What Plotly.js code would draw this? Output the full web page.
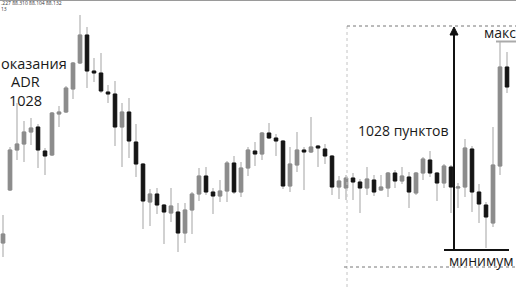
<!DOCTYPE html>
<html>
<head>
<meta charset="utf-8">
<script src="https://cdn.plot.ly/plotly-3.0.1.min.js"></script>
<style>
html,body{margin:0;padding:0;background:#fff;}
#chart{width:516px;height:290px;}
</style>
</head>
<body>
<div id="chart"></div>
<script>
// Candle index (bars)
const bars = Array.from({length: 73}, (_, i) => i);

const openP = [87.285,87.550,87.750,87.780,87.840,87.865,87.745,87.725,87.930,87.940,
88.055,88.185,88.325,88.145,88.135,88.040,88.030,87.865,87.940,87.790,
87.680,87.490,87.530,87.475,87.435,87.440,87.335,87.450,87.530,87.620,
87.540,87.520,87.545,87.685,87.540,87.660,87.745,87.730,87.835,87.810,
87.795,87.570,87.675,87.750,87.740,87.770,87.755,87.720,87.565,87.560,
87.610,87.590,87.560,87.600,87.550,87.560,87.635,87.595,87.615,87.535,
87.635,87.700,87.635,87.585,87.665,87.560,87.565,87.755,87.540,87.475,
87.385,87.670,88.165];

const highP = [87.425,87.765,87.985,87.895,87.910,87.880,87.760,87.940,87.970,88.070,
88.190,88.425,88.365,88.210,88.235,88.075,88.095,87.985,88.010,87.880,
87.685,87.555,87.560,87.480,87.560,87.485,87.485,87.540,87.660,87.665,
87.560,87.600,87.695,87.720,87.690,87.765,87.790,87.840,87.885,87.830,
87.800,87.765,87.840,87.765,87.915,87.775,87.780,87.725,87.620,87.625,
87.635,87.605,87.665,87.625,87.625,87.640,87.650,87.665,87.640,87.640,
87.715,87.745,87.640,87.680,87.675,87.585,87.805,87.770,87.580,87.490,
87.865,88.290,88.240];

const lowP = [87.215,87.545,87.700,87.690,87.775,87.660,87.625,87.720,87.865,87.935,
88.005,88.180,88.060,88.090,88.035,87.985,87.770,87.665,87.710,87.615,
87.355,87.370,87.430,87.280,87.390,87.240,87.285,87.330,87.495,87.525,
87.430,87.490,87.490,87.530,87.515,87.620,87.670,87.700,87.805,87.720,
87.555,87.540,87.640,87.550,87.735,87.665,87.680,87.525,87.505,87.500,
87.500,87.435,87.525,87.520,87.545,87.515,87.560,87.580,87.460,87.525,
87.600,87.615,87.495,87.560,87.435,87.460,87.515,87.440,87.385,87.260,
87.365,87.625,88.035];

const closeP = [87.330,87.750,87.780,87.840,87.860,87.750,87.720,87.935,87.940,88.060,
88.185,88.325,88.145,88.135,88.045,88.030,87.865,87.940,87.795,87.680,
87.495,87.530,87.475,87.440,87.470,87.335,87.450,87.530,87.620,87.540,
87.520,87.545,87.685,87.540,87.660,87.750,87.730,87.835,87.810,87.795,
87.570,87.680,87.750,87.740,87.765,87.760,87.720,87.565,87.595,87.610,
87.590,87.560,87.605,87.540,87.565,87.635,87.595,87.620,87.540,87.635,
87.705,87.635,87.585,87.670,87.565,87.565,87.760,87.540,87.480,87.415,
87.675,88.165,88.065];

const labelRange = "1028 пунктов";
const labelLeft = ["оказания", "ADR", "1028"];
const labelMin = "минимум";
const labelMax = "макс";
const headerLine1 = ".227 88.310 88.104 88.132";
const headerLine2 = "13";

const W = 516, H = 290;
const px = x => x / W;
const py = y => 1 - y / H;

const GRAY = '#8c8c8c', BLACK = '#151515', WICK = '#a3a3a3';

const bodyHigh = openP.map((o, i) => Math.max(o, closeP[i]));
const bodyLow = openP.map((o, i) => Math.min(o, closeP[i]));

const traces = [
  {
    type: 'candlestick', x: bars, open: openP, high: highP, low: lowP, close: closeP,
    increasing: {line: {color: WICK, width: 1}, fillcolor: GRAY},
    decreasing: {line: {color: WICK, width: 1}, fillcolor: BLACK},
    hoverinfo: 'skip', showlegend: false
  },
  {
    type: 'candlestick', x: bars, open: openP, high: bodyHigh, low: bodyLow, close: closeP,
    increasing: {line: {color: GRAY, width: 1}, fillcolor: GRAY},
    decreasing: {line: {color: BLACK, width: 1}, fillcolor: BLACK},
    hoverinfo: 'skip', showlegend: false
  }
];

const FONT = '"Open Sans", "DejaVu Sans", sans-serif';

const shapes = [
  {type: 'line', xref: 'paper', yref: 'paper', x0: 0, x1: 1, y0: 1, y1: 1, line: {color: '#9a9a9a', width: 2}},
  {type: 'line', xref: 'paper', yref: 'paper', x0: px(347), x1: px(347), y0: py(26), y1: 0, line: {color: '#c4c4c4', width: 1, dash: 'dot'}},
  {type: 'line', xref: 'paper', yref: 'paper', x0: px(347), x1: 1, y0: py(26), y1: py(26), line: {color: '#777', width: 1, dash: 'dot'}},
  {type: 'line', xref: 'paper', yref: 'paper', x0: px(344), x1: 1, y0: py(267), y1: py(267), line: {color: '#777', width: 1, dash: 'dot'}},
  {type: 'line', xref: 'paper', yref: 'paper', x0: px(454), x1: px(454), y0: py(33), y1: py(250), line: {color: '#111', width: 2}},
  {type: 'path', xref: 'paper', yref: 'paper',
   path: `M ${px(454)} ${py(27)} L ${px(450)} ${py(35)} L ${px(458)} ${py(35)} Z`,
   fillcolor: '#111', line: {color: '#111', width: 1}},
  {type: 'line', xref: 'paper', yref: 'paper', x0: px(444), x1: px(509), y0: py(250), y1: py(250), line: {color: '#111', width: 2}},
  {type: 'line', xref: 'paper', yref: 'paper', x0: px(496), x1: 1, y0: py(41.5), y1: py(41.5), line: {color: '#aaa', width: 2}}
];

const ann = (text, x, y, xa, size, color) => ({
  text: text, xref: 'paper', yref: 'paper', x: px(x), y: py(y),
  xanchor: xa, yanchor: 'middle', showarrow: false,
  font: {family: FONT, size: size, color: color || '#1a1a1a'}
});

const annotations = [
  ann(labelRange, 403, 130, 'center', 14),
  ann(labelLeft[0], -1, 63, 'left', 14.5),
  ann(labelLeft[1], 25.5, 81, 'center', 14.5),
  ann(labelLeft[2], 25.5, 100, 'center', 14.5),
  ann(labelMin, 481, 260, 'center', 14),
  ann(labelMax, 518, 32, 'right', 14),
  ann(headerLine1, -1, 3, 'left', 5, '#333'),
  ann(headerLine2, -1, 8.5, 'left', 5, '#333')
];

const layout = {
  width: W, height: H,
  margin: {l: 0, r: 0, t: 0, b: 0, pad: 0},
  paper_bgcolor: '#fff', plot_bgcolor: '#fff',
  showlegend: false,
  xaxis: {range: [-3/7, -3/7 + W/7], visible: false, showgrid: false, zeroline: false, rangeslider: {visible: false}, fixedrange: true},
  yaxis: {range: [87.05, 88.5], visible: false, showgrid: false, zeroline: false, fixedrange: true},
  shapes: shapes,
  annotations: annotations
};

Plotly.newPlot('chart', traces, layout, {staticPlot: true, displayModeBar: false});
</script>
</body>
</html>
